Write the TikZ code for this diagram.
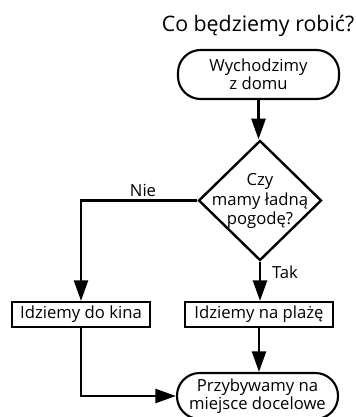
\documentclass[tikz,border=0pt]{standalone}
\usepackage{fontspec}
\setmainfont{Open Sans}
\usetikzlibrary{arrows.meta,shapes.geometric}
\begin{document}
\begin{tikzpicture}[x=0.75pt,y=-0.75pt,
  every node/.style={font=\fontsize{12.5pt}{13.5pt}\selectfont},
  term/.style={draw,line width=1.6pt,rounded corners=17pt,minimum width=120.75pt,inner sep=0pt,align=center},
  procbox/.style={draw,line width=1.6pt,minimum height=18.75pt,inner sep=0pt,align=center},
  decide/.style={draw,diamond,line width=1.8pt,minimum width=92.25pt,minimum height=90pt,inner sep=0pt},
  conn/.style={line width=2pt,-{Triangle[length=15.5pt,width=10.5pt]}}]
\useasboundingbox (0,0) rectangle (355,417);
\node[font=\fontsize{16pt}{19pt}\selectfont,anchor=base] (title) at (258,32) {Co będziemy robić?};
\node[term,minimum height=36.75pt] (start) at (258.5,74.5) {Wychodzimy\\z domu};
\node[decide] (d) at (260,200.5) {};
\node[align=center,font=\fontsize{12.5pt}{14.6pt}\selectfont] (dq) at (260,201) {Czy\\mamy ładną\\pogodę?};
\node[procbox,minimum width=103.5pt] (kina) at (81,314.5) {Idziemy do kina};
\node[procbox,minimum width=111pt] (plaze) at (259,314.5) {Idziemy na plażę};
\node[term,minimum height=34.5pt] (end) at (257.5,396) {Przybywamy na\\miejsce docelowe};
\draw[conn] (start) -- (start.south |- d.north);
\draw[conn] (d.west) -| (kina.north);
\draw[conn] (d.south) -- (d.south |- plaze.north);
\draw[conn] (plaze.south) -- (plaze.south |- end.north);
\draw[conn] (kina.south) |- (end.west);
\node[anchor=base] (nie) at (143,196) {Nie};
\node[anchor=base] (tak) at (285,278) {Tak};
\end{tikzpicture}
\end{document}
